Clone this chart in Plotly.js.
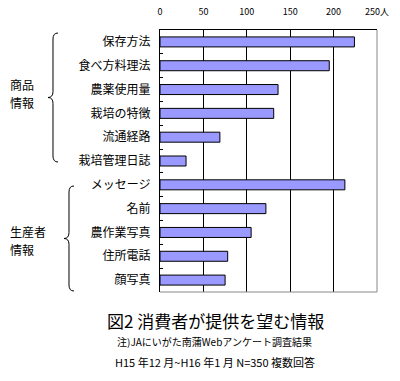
<!DOCTYPE html>
<html><head><meta charset="utf-8">
<script src="https://cdn.plot.ly/plotly-3.0.1.min.js"></script>
<style>html,body{margin:0;padding:0;background:#fff}</style>
</head><body>
<div id="chart" style="width:400px;height:381px"></div>
<script>
const categories = ["保存方法","食べ方料理法","農薬使用量","栽培の特徴","流通経路","栽培管理日誌","メッセージ","名前","農作業写真","住所電話","顔写真"];
const values = [224, 195, 136, 131, 69, 30, 213, 122, 105, 78, 75];
const tickVals = [0, 50, 100, 150, 200, 250];
const tickLabels = ["0", "50", "100", "150", "200", "250人"];
const groupLabels = [["商品", "情報"], ["生産者", "情報"]];
const titleText = "図2 消費者が提供を望む情報";
const note1 = "注)JAにいがた南蒲Webアンケート調査結果";
const note2 = "H15 年12 月~H16 年1 月 N=350 複数回答";

const W = 400, H = 381, mL = 160, mR = 23, mT = 30, mB = 89;
const pw = W - mL - mR, ph = H - mT - mB;
const px = x => (x - mL) / pw;
const py = y => (H - mB - y) / ph;
function brace(xc, y0, y1, tipx) {
  const ym = (y0 + y1) / 2;
  const r = 6;
  const p = (x, y) => px(x).toFixed(4) + "," + py(y).toFixed(4);
  return "M" + p(xc + 5, y0) + " Q" + p(xc, y0) + " " + p(xc, y0 + r) +
    " L" + p(xc, ym - r) + " Q" + p(xc, ym) + " " + p(tipx, ym) +
    " Q" + p(xc, ym) + " " + p(xc, ym + r) +
    " L" + p(xc, y1 - r) + " Q" + p(xc, y1) + " " + p(xc + 5, y1);
}
const font = "'Noto Sans CJK JP', 'Noto Sans', sans-serif";
function label(text, x, y, size) {
  return {xref: "paper", yref: "paper", x: px(x), y: py(y), xanchor: "left", yanchor: "middle",
    showarrow: false, text: text, font: {size: size, family: font}, borderpad: 0};
}
function centered(text, x, y, size) {
  return {xref: "paper", yref: "paper", x: px(x), y: py(y), xanchor: "center", yanchor: "middle",
    showarrow: false, text: text, font: {size: size, family: font}};
}

const trace = {
  type: "bar", orientation: "h",
  x: values, y: categories,
  marker: {color: "#9999FF", line: {color: "#000", width: 1}},
  width: 0.42, hoverinfo: "none"
};
const layout = {
  width: W, height: H,
  margin: {l: mL, r: mR, t: mT, b: mB},
  paper_bgcolor: "#fff", plot_bgcolor: "#fff",
  font: {family: font, color: "#000", size: 12},
  showlegend: false,
  xaxis: {
    side: "top", range: [0, 250], tickvals: tickVals, ticktext: tickLabels,
    showgrid: true, gridcolor: "#000", gridwidth: 1, zeroline: false,
    showline: true, linecolor: "#000", linewidth: 1, ticks: "",
    tickfont: {size: 9, family: font}, ticklabelstandoff: 10, fixedrange: true
  },
  yaxis: {
    type: "category", autorange: "reversed", showgrid: false, zeroline: false,
    showline: true, linecolor: "#000", linewidth: 1,
    ticks: "inside", tickson: "boundaries", ticklen: 3, tickcolor: "#000",
    tickfont: {size: 12, family: font}, ticklabelstandoff: 6, fixedrange: true
  },
  shapes: [
    {type: "line", xref: "paper", yref: "paper", x0: 1, x1: 1, y0: 0, y1: 1, line: {color: "#888", width: 1}},
    {type: "line", xref: "paper", yref: "paper", x0: 0, x1: 1, y0: 0, y1: 0, line: {color: "#888", width: 1}},
    {type: "path", xref: "paper", yref: "paper", path: brace(53, 33, 162, 48), line: {color: "#000", width: 1}},
    {type: "path", xref: "paper", yref: "paper", path: brace(69, 186, 291, 64), line: {color: "#000", width: 1}}
  ],
  annotations: [
    label(groupLabels[0][0], 9, 84, 12),
    label(groupLabels[0][1], 9, 102, 12),
    label(groupLabels[1][0], 9, 231, 12),
    label(groupLabels[1][1], 9, 249, 12),
    centered(titleText, 215, 320, 17),
    centered(note1, 214, 341, 10),
    centered(note2, 215, 362, 11)
  ]
};
Plotly.newPlot("chart", [trace], layout, {displayModeBar: false, staticPlot: true});
</script>
</body></html>
